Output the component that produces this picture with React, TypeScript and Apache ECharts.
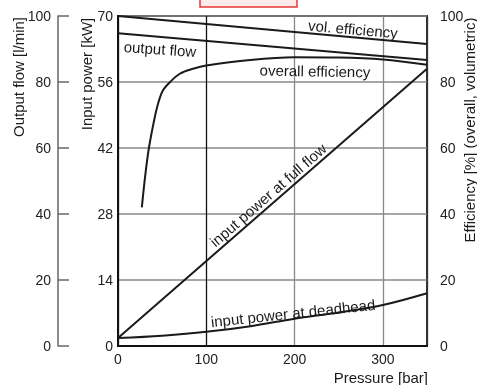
import React, { useEffect, useRef } from "react";
import * as echarts from "echarts";

// ---- data ----
const pressureEnds = [0, 350];
const volEfficiency = [100, 91.5]; // %
const outputFlow = [94.8, 86.7]; // l/min
const fullFlowPower = [1.7, 58.8]; // kW

const overallPressure = [27, 31, 35, 41, 46, 51, 59, 70, 85, 100, 150, 200, 250, 300, 350];
const overallEfficiency = [42, 52, 60, 68.5, 74, 77.5, 80, 82.5, 84, 85, 86.7, 87.5, 87.4, 86.8, 85.2];

const deadheadPressure = [0, 50, 100, 150, 200, 250, 300, 350];
const deadheadPower = [1.7, 2.2, 3.0, 4.2, 5.8, 7.1, 8.7, 11.2];

const xTicks = [0, 100, 200, 300];

const FONT = '"Liberation Sans", Arial, Helvetica, sans-serif';
const INK = "#1a1a1a";

const pairs = (xs: number[], ys: number[]) => xs.map((x, i) => [x, ys[i]]);

const lineSeries = (name: string, yAxisIndex: number, data: number[][], smooth: number | boolean = false) => ({
  name,
  type: "line",
  yAxisIndex,
  data,
  smooth,
  showSymbol: false,
  symbol: "none",
  lineStyle: { color: INK, width: 2 },
  z: 5,
});

const txt = (text: string, x: number, y: number, rotDeg: number, size = 15, align = "center") => ({
  type: "text",
  x,
  y,
  rotation: (rotDeg * Math.PI) / 180,
  z: 20,
  style: {
    text,
    fill: INK,
    fontSize: size,
    fontFamily: FONT,
    align,
    verticalAlign: "middle",
    textAlign: align,
    textVerticalAlign: "middle",
  },
});

export default function App() {
  const ref = useRef<HTMLDivElement>(null);
  useEffect(() => {
    if (!ref.current) return;
    const chart = echarts.init(ref.current, undefined, { renderer: "svg" });
    chart.setOption({
      animation: false,
      grid: {
        left: 118,
        right: 50,
        top: 16,
        bottom: 39,
        show: true,
        borderColor: "#333",
        borderWidth: 2,
        backgroundColor: "transparent",
      },
      xAxis: {
        type: "value",
        min: 0,
        max: 350,
        interval: 100,
        axisLine: { show: true, lineStyle: { color: "#111", width: 2 } },
        axisTick: { show: false },
        axisLabel: {
          margin: 6,
          fontSize: 14,
          color: "#222",
          fontFamily: FONT,
          formatter: (v: number) => (xTicks.includes(v) ? String(v) : ""),
        },
        splitLine: {
          show: true,
          lineStyle: { color: ["#111", "#111", "#888", "#888", "#333"], width: 1.3 },
        },
      },
      yAxis: [
        {
          type: "value",
          position: "left",
          min: 0,
          max: 70,
          interval: 14,
          axisLine: { show: true, lineStyle: { color: "#111", width: 2 } },
          axisTick: { show: false },
          axisLabel: { margin: 5, fontSize: 14, color: "#222", fontFamily: FONT },
          splitLine: { show: true, lineStyle: { color: "#888", width: 1.5 } },
        },
        {
          type: "value",
          position: "left",
          offset: 60,
          min: 0,
          max: 100,
          interval: 20,
          axisLine: { show: true, lineStyle: { color: "#666", width: 1.5 } },
          axisTick: { show: true, inside: true, length: 11, lineStyle: { color: "#666", width: 1.5 } },
          axisLabel: { margin: 7, fontSize: 14, color: "#222", fontFamily: FONT },
          splitLine: { show: false },
        },
        {
          type: "value",
          position: "right",
          min: 0,
          max: 100,
          interval: 20,
          axisLine: { show: false },
          axisTick: { show: false },
          axisLabel: { margin: 13, fontSize: 14, color: "#222", fontFamily: FONT },
          splitLine: { show: false },
        },
      ],
      series: [
        lineSeries("vol. efficiency", 2, pairs(pressureEnds, volEfficiency)),
        lineSeries("output flow", 1, pairs(pressureEnds, outputFlow)),
        lineSeries("overall efficiency", 2, pairs(overallPressure, overallEfficiency), 0.35),
        lineSeries("input power at full flow", 0, pairs(pressureEnds, fullFlowPower)),
        lineSeries("input power at deadhead", 0, pairs(deadheadPressure, deadheadPower), 0.35),
      ],
      graphic: [
        {
          type: "rect",
          shape: { x: 200, y: -2, width: 97, height: 9 },
          style: { fill: "#fdeaea", stroke: "#e53935", lineWidth: 1.5 },
          z: 30,
        },
        txt("Output flow [l/min]", 18, 77, 90),
        txt("Input power [kW]", 86, 74, 90),
        txt("Efficiency [%] (overall, volumetric)", 469, 130, 90),
        txt("Pressure [bar]", 428, 377, 0, 15, "right"),
        txt("vol. efficiency", 353, 29, -5),
        txt("output flow", 160, 49, -4),
        txt("overall efficiency", 315, 71, -1),
        txt("input power at full flow", 268, 195, 41),
        txt("input power at deadhead", 293, 313, 6),
      ],
    });
    return () => chart.dispose();
  }, []);
  return (
    <div
      ref={ref}
      style={{ position: "fixed", left: 0, top: 0, width: 477, height: 385 }}
    />
  );
}
